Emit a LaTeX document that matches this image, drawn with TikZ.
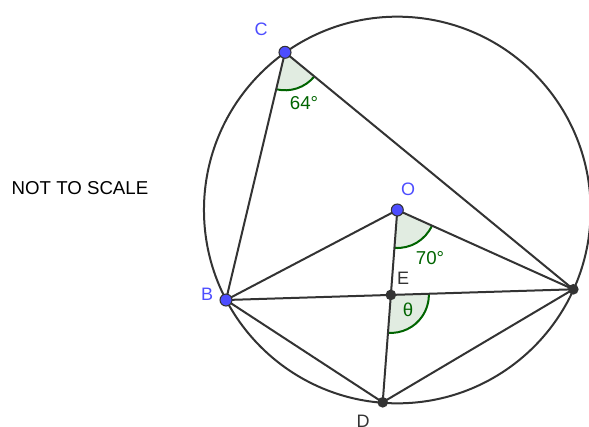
\documentclass[tikz,border=0pt]{standalone}
\usepackage{fontspec}
\setmainfont{Liberation Sans}
\usetikzlibrary{angles}
\definecolor{ggblue}{RGB}{77,77,255}
\definecolor{gggreen}{RGB}{0,100,0}
\definecolor{ggfill}{RGB}{225,236,225}
\definecolor{ggline}{RGB}{51,51,51}
\tikzset{
  seg/.style={draw=ggline, line width=1.5pt},
  freept/.style={circle, fill=ggblue, draw=ggline, line width=0.8pt, inner sep=0pt, minimum size=9pt},
  fixpt/.style={circle, fill=ggline, inner sep=0pt, minimum size=8pt},
  ptlabel/.style={text=ggblue, font=\fontsize{13.5}{15}\selectfont},
  fixlabel/.style={text=ggline, font=\fontsize{13.5}{15}\selectfont},
  anglemark/.style={draw=gggreen, fill=ggfill, line width=1.5pt, angle radius=28.5pt},
  anglelabel/.style={text=gggreen, font=\fontsize{14}{16}\selectfont}
}

\begin{document}
\begin{tikzpicture}[x=0.75pt, y=-0.75pt]
    \useasboundingbox (0,0) rectangle (589,426);
    \clip (0,0) rectangle (589,426);

    \coordinate (O) at (397.3,210);
    \coordinate (C) at (285,52.3);
    \coordinate (B) at (226,300);
    \coordinate (A) at (573.3,289.3);
    \coordinate (D) at (382.7,402.3);
    \coordinate (E) at (intersection of O--D and B--A);

    % angle marks
    \pic[anglemark] {angle = B--C--A};
    \pic[anglemark] {angle = E--O--A};
    \pic[anglemark] {angle = D--E--A};

    \draw[seg] (O) circle[radius=145pt];
    \draw[seg] (C) -- (B) -- (A) -- cycle;
    \draw[seg] (B) -- (D) -- (A);
    \draw[seg] (B) -- (O) -- (A);
    \draw[seg] (O) -- (D);

    \node[freept] (Cpt) at (C) {};
    \node[freept] (Bpt) at (B) {};
    \node[freept] (Opt) at (O) {};
    \node[fixpt] (Apt) at (A) {};
    \node[fixpt] (Dpt) at (D) {};
    \node[fixpt] (Ept) at (E) {};

    \node[ptlabel] (Clab) at (261,29) {C};
    \node[ptlabel] (Blab) at (207,294) {B};
    \node[ptlabel] (Olab) at (408,189) {O};
    \node[fixlabel] (Alab) at (595,283) {A};
    \node[fixlabel] (Dlab) at (363,421) {D};
    \node[fixlabel] (Elab) at (403,278) {E};

    \node[anglelabel] (c64) at (304,103) {64°};
    \node[anglelabel] (o70) at (430,258) {70°};
    \node[anglelabel] (eth) at (408,310) {θ};

    \node[text=black, font=\fontsize{14}{16}\selectfont] (note) at (80,188) {NOT TO SCALE};
  \end{tikzpicture}
\end{document}
